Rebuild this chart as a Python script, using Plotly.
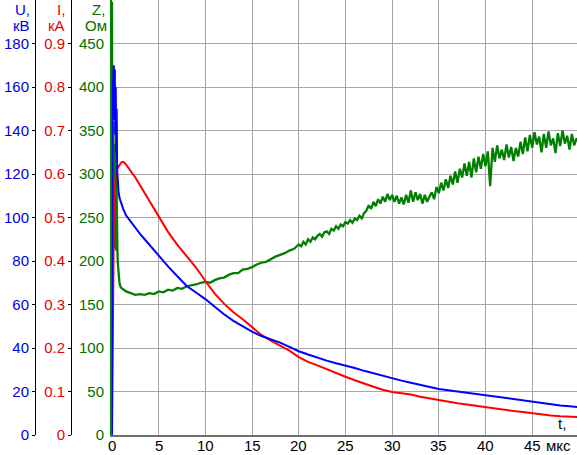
import plotly.graph_objects as go

# ---- Voltage U, kV (blue) ----
u_t = [0, 0.05, 0.15, 0.2, 0.25, 0.3, 0.35, 0.4, 0.45, 0.5, 0.55, 0.6, 0.7, 0.8,
       1.0, 1.2, 1.5, 2, 2.5, 3, 3.5, 4, 4.5, 5,
       6, 7, 8, 9, 10, 11, 12, 13, 14, 15, 16, 17, 18, 19, 20,
       21, 22, 23, 24, 25, 26, 27, 28, 29, 30,
       31, 32, 33, 34, 35, 36, 37, 38, 39, 40,
       41, 42, 43, 44, 45, 46, 47, 48, 49, 50]
u_kv = [0, 150, 166, 170, 145, 168, 138, 160, 130, 150, 122, 117, 112, 109,
        106, 104, 101, 98, 95, 92.5, 90, 87.5, 85, 82,
        77.5, 73, 68.5, 65.5, 62.5, 59, 55.5, 52.5, 50, 47.5, 45.5, 44, 42.5, 40.5, 38.5,
        37, 35.5, 34.2, 33, 32, 30.8, 29.5, 28.3, 27.2, 26,
        25, 24, 23, 22, 21.2, 20.6, 20, 19.3, 18.7, 18.1,
        17.5, 16.9, 16.3, 15.7, 15.1, 14.6, 14.1, 13.6, 13.2, 12.8]

# ---- Current I, kA (red) ----
i_t = [0, 0.1, 0.2, 0.3, 0.4, 0.5, 0.65, 0.8, 1.0, 1.2, 1.5, 2, 2.5, 3, 3.5, 4, 4.5, 5, 5.5, 6,
       7, 8, 9, 10, 11, 12, 13, 14, 15, 16, 17, 18, 19, 20,
       21, 22, 23, 24, 25, 26, 27, 28, 29, 30,
       31, 32, 33, 34, 35, 36, 37, 38, 39, 40,
       41, 42, 43, 44, 45, 46, 47, 48, 49, 50]
i_ka = [0, 0.3, 0.5, 0.575, 0.6, 0.61, 0.615, 0.62, 0.627, 0.628, 0.622, 0.607, 0.592, 0.574,
        0.556, 0.539, 0.521, 0.501, 0.485, 0.467,
        0.437, 0.41, 0.385, 0.354, 0.325, 0.302, 0.282, 0.266, 0.248, 0.23, 0.217, 0.206, 0.194, 0.179,
        0.168, 0.16, 0.151, 0.142, 0.134, 0.126, 0.118, 0.111, 0.104, 0.099,
        0.096, 0.093, 0.088, 0.084, 0.08, 0.077, 0.073, 0.07, 0.067, 0.063,
        0.061, 0.058, 0.055, 0.053, 0.05, 0.047, 0.045, 0.043, 0.042, 0.041]

# ---- Impedance Z, Ohm (green) ----
z_t = [0, 0.03, 0.06, 0.1, 0.14, 0.18, 0.22, 0.26, 0.3, 0.34,
       0.38, 0.42, 0.46, 0.5, 0.54, 0.58, 0.62, 0.68, 0.8, 0.9,
       1.0, 1.5, 2.0, 2.5, 3.0, 3.5, 4.0, 4.5, 5.0, 5.5,
       6.0, 6.5, 7.0, 7.5, 8.0, 8.5, 9.0, 9.5, 10.0, 10.5,
       11.0, 11.5, 12.0, 12.5, 13.0, 13.5, 14.0, 14.5, 15.0, 15.5,
       16.0, 16.5, 17.0, 17.5, 18.0, 18.5, 19.0, 19.5, 20.0,
       20.25, 20.5, 20.75, 21.0, 21.25, 21.5, 21.75, 22.0,
       22.25, 22.5, 22.75, 23.0, 23.25, 23.5, 23.75, 24.0,
       24.25, 24.5, 24.75, 25.0, 25.25, 25.5, 25.75, 26.0,
       26.25, 26.5, 26.75, 27.0, 27.25, 27.5, 27.75, 28.0,
       28.25, 28.5, 28.75, 29.0, 29.25, 29.5, 29.75, 30.0,
       30.25, 30.5, 30.75, 31.0, 31.25, 31.5, 31.75, 32.0,
       32.25, 32.5, 32.75, 33.0, 33.25, 33.5, 33.75, 34.0,
       34.25, 34.5, 34.75, 35.0, 35.25, 35.5, 35.75, 36.0,
       36.25, 36.5, 36.75, 37.0, 37.25, 37.5, 37.75, 38.0,
       38.25, 38.5, 38.75, 39.0, 39.25, 39.5, 39.75, 40.0,
       40.25, 40.5, 40.75, 41.0, 41.25, 41.5, 41.75, 42.0,
       42.25, 42.5, 42.75, 43.0, 43.25, 43.5, 43.75, 44.0,
       44.25, 44.5, 44.75, 45.0, 45.25, 45.5, 45.75, 46.0,
       46.25, 46.5, 46.75, 47.0, 47.25, 47.5, 47.75, 48.0,
       48.25, 48.5, 48.75, 49.0, 49.25, 49.5, 49.75, 50.0]
z_ohm = [498, 230, 470, 250, 360, 220, 345, 215, 335, 225,
         320, 212, 310, 218, 300, 212, 198, 186, 175, 171,
         169, 165, 163, 161, 162, 161, 163, 162, 165, 164,
         167, 166, 169, 168, 171, 172, 173, 175, 176, 175,
         178, 180, 181, 184, 186, 186, 190, 191, 193, 196,
         198, 199, 202, 205, 207, 209, 212, 214, 219,
         217, 222, 219, 225, 222, 227, 225, 229,
         231, 228, 233, 234, 231, 237, 235, 240,
         237, 242, 240, 245, 243, 247, 244, 249,
         247, 252, 249, 255, 258, 264, 260, 268,
         263, 271, 266, 274, 268, 277, 270, 276,
         268, 275, 266, 273, 265, 276, 267, 281,
         268, 279, 270, 277, 266, 276, 268, 274,
         279, 271, 285, 278, 290, 281, 294, 284,
         298, 288, 303, 290, 306, 296, 312, 298,
         314, 296, 318, 302, 320, 306, 323, 309,
         326, 286, 330, 314, 333, 318, 328, 316,
         334, 319, 331, 315, 330, 320, 337, 323,
         342, 326, 345, 330, 348, 334, 343, 325,
         346, 330, 349, 333, 341, 324, 347, 332,
         350, 335, 344, 328, 346, 333, 341, 336]

x_ticks = [0, 5, 10, 15, 20, 25, 30, 35, 40, 45]
x_labels = ["0", "5", "10", "15", "20", "25", "30", "35", "40", "45"]
u_ticks = [0, 20, 40, 60, 80, 100, 120, 140, 160, 180]
i_ticks = [0, 0.1, 0.2, 0.3, 0.4, 0.5, 0.6, 0.7, 0.8, 0.9]
i_labels = ["0", "0.1", "0.2", "0.3", "0.4", "0.5", "0.6", "0.7", "0.8", "0.9"]
z_ticks = [0, 50, 100, 150, 200, 250, 300, 350, 400, 450]

W, H = 577, 455
PLOT_LEFT = 112
FONT = "Liberation Sans, Arial, sans-serif"
FS = 15
BLUE_T = "#0000e6"
RED_T = "#e60000"
GREEN_T = "#007000"

fig = go.Figure()
fig.add_trace(go.Scatter(x=i_t, y=i_ka, yaxis="y2", mode="lines",
                         line=dict(color="#ff0000", width=2), hoverinfo="skip"))
fig.add_trace(go.Scatter(x=z_t, y=z_ohm, yaxis="y", mode="lines",
                         line=dict(color="#008000", width=2.3), hoverinfo="skip"))
fig.add_trace(go.Scatter(x=u_t, y=u_kv, yaxis="y3", mode="lines",
                         line=dict(color="#0000ff", width=2), hoverinfo="skip"))

fig.update_layout(
    width=W, height=H,
    margin=dict(l=0, r=0, t=0, b=20, pad=0),
    paper_bgcolor="white", plot_bgcolor="white",
    showlegend=False,
    font=dict(family=FONT, size=FS, color="black"),
    xaxis=dict(domain=[PLOT_LEFT / W, 1], range=[0, 49.8], tickvals=x_ticks,
               showticklabels=False,
               showgrid=True, gridcolor="#a6a6a6", gridwidth=1,
               showline=True, linecolor="#6e6e6e", linewidth=2,
               zeroline=False, ticks="", automargin=False),
    yaxis=dict(range=[0, 500], tickvals=z_ticks, showgrid=True,
               gridcolor="#a6a6a6", gridwidth=1,
               showline=True, linecolor="#008000", linewidth=2,
               zeroline=False, ticks="outside", ticklen=3, tickcolor="rgba(0,0,0,0)",
               automargin=False,
               tickfont=dict(family=FONT, size=FS, color=GREEN_T)),
    yaxis2=dict(range=[0, 1], tickvals=i_ticks, ticktext=i_labels,
                overlaying="y", anchor="free", position=71 / W, side="left",
                showgrid=False, zeroline=False, showline=True,
                linecolor="black", linewidth=1, ticks="outside", ticklen=3,
                tickcolor="black", automargin=False,
                tickfont=dict(family=FONT, size=FS, color=RED_T)),
    yaxis3=dict(range=[0, 200], tickvals=u_ticks,
                overlaying="y", anchor="free", position=35 / W, side="left",
                showgrid=False, zeroline=False, showline=True,
                linecolor="black", linewidth=1, ticks="outside", ticklen=3,
                tickcolor="black", automargin=False,
                tickfont=dict(family=FONT, size=FS, color=BLUE_T)),
)

def py(p):
    return (435 - p) / 435.0

# x tick labels placed on the x axis scale
for xv, lab in zip(x_ticks, x_labels):
    fig.add_annotation(text=lab, xref="x", yref="paper", x=xv, y=py(445),
                       xanchor="center", yanchor="middle", showarrow=False,
                       font=dict(family=FONT, size=FS, color="black"))

annots = [
    ("U,", 32, 9, BLUE_T, "right"), ("кВ", 32, 26, BLUE_T, "right"),
    ("I,", 67, 9, RED_T, "right"), ("кА", 67, 26, RED_T, "right"),
    ("Z,", 107, 9, GREEN_T, "right"), ("Ом", 109, 26, GREEN_T, "right"),
    ("t,", 562, 423, "black", "center"), ("мкс", 558, 445, "black", "center"),
]
for text, xp, yp, col, anc in annots:
    fig.add_annotation(text=text, xref="paper", yref="paper",
                       x=xp / W, y=py(yp), xanchor=anc, yanchor="middle",
                       showarrow=False, font=dict(family=FONT, size=FS, color=col))

fig.write_html(
    "out.html",
    config={"displayModeBar": False, "staticPlot": True},
    post_script="document.body.style.margin='0';document.body.style.overflow='hidden';",
)
